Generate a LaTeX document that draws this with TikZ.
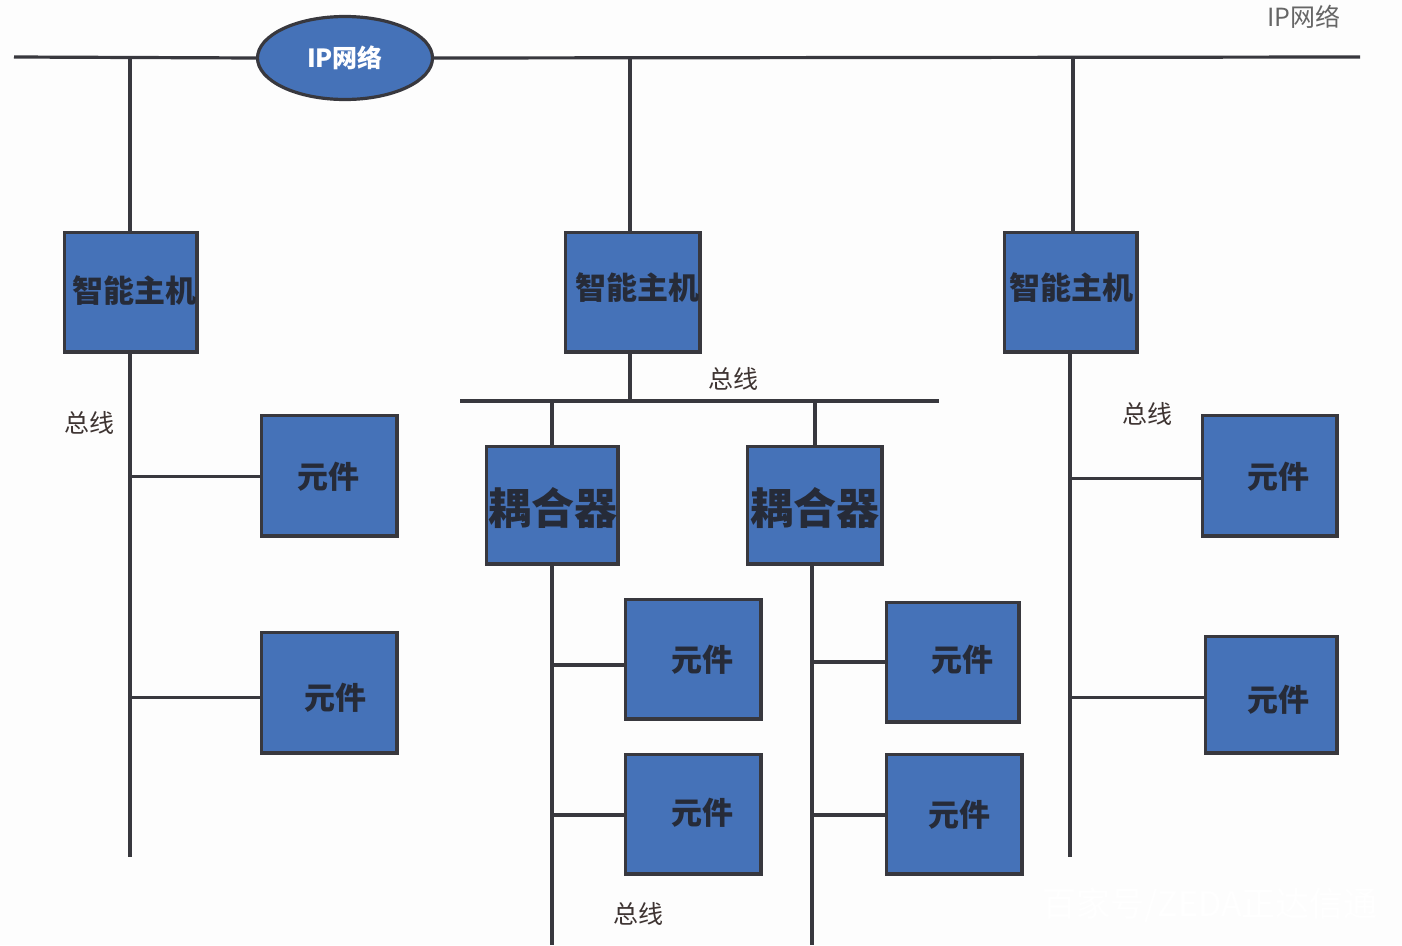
\documentclass[tikz,border=0pt]{standalone}
\usepackage{fontspec}
\setmainfont{Noto Sans CJK SC}
\usetikzlibrary{shapes.geometric}
\definecolor{linec}{HTML}{38383E}
\definecolor{boxc}{HTML}{4572B8}
\definecolor{bg}{HTML}{FDFDFD}
\definecolor{lab}{HTML}{3E3432}
\definecolor{inkc}{HTML}{262B38}
\newcommand{\fz}[1]{\fontsize{#1}{#1}\selectfont}
\tikzset{
  x=1pt,y=-1pt,
  bus/.style={draw=linec,line width=3.2pt},
  box/.style={draw=linec,line width=3.6pt,fill=boxc,inner sep=0pt,outer sep=0pt},
  hosttxt/.style={inner sep=0pt,text=inkc,font=\fz{31}\bfseries},
  parttxt/.style={inner sep=0pt,text=inkc,font=\fz{31}\bfseries},
  couptxt/.style={inner sep=0pt,text=inkc,font=\fz{43}\bfseries},
  buslab/.style={inner sep=0pt,text=lab,font=\fz{25}},
}
\newcommand{\bx}[5]{\node[box,minimum width=#4-#2-2.6pt,minimum height=#5-#3-2.6pt,anchor=north west] (#1) at (#2+1.3,#3+1.3) {};}
\begin{document}
\begin{tikzpicture}
\useasboundingbox (0,0) rectangle (1402,945);
\fill[bg] (0,0) rectangle (1402,945);
% free ends
\coordinate (netL) at (14,57);
\coordinate (netR) at (1360,57);
\coordinate (j1) at (130,57);
\coordinate (j2) at (630,57);
\coordinate (j3) at (1073,57);
\coordinate (subL) at (460,401);
\coordinate (subR) at (939,401);
\coordinate (sj) at (630,401);
\coordinate (sj1) at (552,401);
\coordinate (sj2) at (815,401);
\coordinate (endL) at (130,857);
\coordinate (endR) at (1070,857);
\coordinate (endK1) at (552,945);
\coordinate (endK2) at (812,945);
% boxes
\bx{h1}{63}{231}{198}{353}
\bx{h2}{564}{231}{701}{353}
\bx{h3}{1003}{231}{1138}{353}
\bx{c1}{260}{414}{398}{537}
\bx{c2}{260}{631}{398}{754}
\bx{k1}{485}{445}{619}{565}
\bx{k2}{746}{445}{883}{565}
\bx{m1}{624}{598}{762}{720}
\bx{m2}{624}{753}{762}{875}
\bx{m3}{885}{601}{1020}{723}
\bx{m4}{885}{753}{1023}{875}
\bx{r1}{1201}{414}{1338}{537}
\bx{r2}{1204}{635}{1338}{754}
\node[ellipse,draw=linec,line width=3.2pt,fill=boxc,inner sep=0pt,minimum width=175pt,minimum height=83pt] (net) at (345,58) {};
% IP bus
\draw[bus] (netL) -- (net.west);
\draw[bus] (net.east) -- (netR);
\draw[bus] (j1) -- (j1 |- h1.north);
\draw[bus] (j2) -- (j2 |- h2.north);
\draw[bus] (j3) -- (j3 |- h3.north);
% left trunk
\draw[bus] (j1 |- h1.south) -- (endL);
\draw[bus] (c1.west) ++(0,1) coordinate (c1w) -- (c1w -| endL);
\draw[bus] (c2.west) ++(0,5) coordinate (c2w) -- (c2w -| endL);
% middle
\draw[bus] (sj |- h2.south) -- (sj);
\draw[bus] (subL) -- (subR);
\draw[bus] (sj1) -- (sj1 |- k1.north);
\draw[bus] (sj2) -- (sj2 |- k2.north);
\draw[bus] (endK1 |- k1.south) -- (endK1);
\draw[bus] (endK2 |- k2.south) -- (endK2);
\draw[bus] (m1.west) ++(0,6) coordinate (m1w) -- (m1w -| endK1);
\draw[bus] (m2.west) ++(0,1) coordinate (m2w) -- (m2w -| endK1);
\draw[bus] (m3.west) coordinate (m3w) -- (m3w -| endK2);
\draw[bus] (m4.west) ++(0,1) coordinate (m4w) -- (m4w -| endK2);
% right trunk
\draw[bus] (endR |- h3.south) -- (endR);
\draw[bus] (r1.west) ++(0,3) coordinate (r1w) -- (r1w -| endR);
\draw[bus] (r2.west) ++(0,3) coordinate (r2w) -- (r2w -| endR);
% texts
\node[inner sep=0pt,text=white,font=\fz{25}\bfseries] (tnet) at (345,58) {IP网络};
\node[inner sep=0pt,text=black!60,font=\fz{25}] (tip) at (1304,17) {IP网络};
\node[hosttxt] (t1) at (134,291) {智能主机};
\node[hosttxt] (t2) at (637,288) {智能主机};
\node[hosttxt] (t3) at (1071,288) {智能主机};
\node[parttxt] (t4) at (328,477) {元件};
\node[parttxt] (t5) at (335,698) {元件};
\node[couptxt] (t6) at (553,508) {耦合器};
\node[couptxt] (t7) at (815,508) {耦合器};
\node[parttxt] (t8) at (702,660) {元件};
\node[parttxt] (t9) at (702,813) {元件};
\node[parttxt] (t10) at (962,660) {元件};
\node[parttxt] (t11) at (959,815) {元件};
\node[parttxt] (t12) at (1278,477) {元件};
\node[parttxt] (t13) at (1278,700) {元件};
\node[buslab] (b1) at (89,423) {总线};
\node[buslab] (b2) at (733,379) {总线};
\node[buslab] (b3) at (1147,414) {总线};
\node[buslab] (b4) at (638,914) {总线};
\node[inner sep=0pt,text=white,font=\fz{34}] (wm) at (1210,905) {百家号/ZEDA正达信通};
\end{tikzpicture}
\end{document}
